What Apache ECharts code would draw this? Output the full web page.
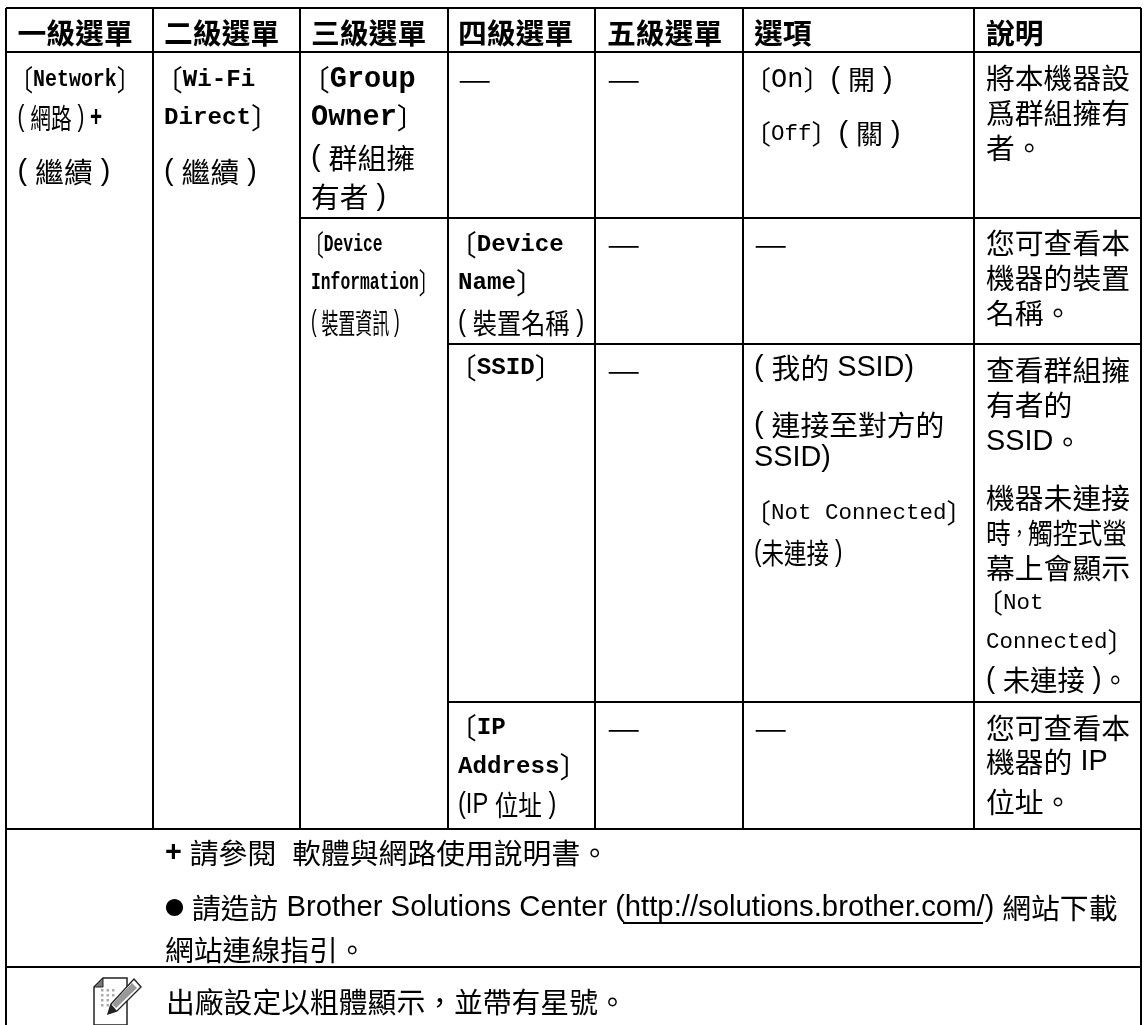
<!DOCTYPE html>
<html><head><meta charset="utf-8">
<style>html,body{margin:0;padding:0;background:#fff}#c{width:1144px;height:1025px}</style>
<script src="https://cdn.jsdelivr.net/npm/echarts@6/dist/echarts.min.js"></script>
</head><body><div id="c"></div>
<script>
// ---- table text ----
const headers = ['一級選單','二級選單','三級選單','四級選單','五級選單','選項','說明'];
const level1 = ['〔Network〕','( 網路 ) +','( 繼續 )'];
const level2 = ['〔Wi-Fi','Direct〕','( 繼續 )'];
const groupOwner = ['〔Group','Owner〕','( 群組擁','有者 )'];
const groupOwnerOptions = ['〔On〕( 開 )','〔Off〕( 關 )'];
const groupOwnerNote = ['將本機器設','爲群組擁有','者。'];
const deviceInfo = ['〔Device','Information〕','( 裝置資訊 )'];
const deviceName = ['〔Device','Name〕','( 裝置名稱 )'];
const deviceNameNote = ['您可查看本','機器的裝置','名稱。'];
const ssid = ['〔SSID〕'];
const ssidOptionsA = ['( 我的 SSID)','( 連接至對方的','SSID)'];
const ssidOptionsB = ['〔Not Connected〕','(未連接 )'];
const ssidNoteA = ['查看群組擁','有者的','SSID。','機器未連接'];
const ssidNoteT = ['時\uFF0C觸控式螢'];
const ssidNoteA2 = ['幕上會顯示'];
const ssidNoteB = ['〔Not','Connected〕'];
const ssidNoteC = ['( 未連接 )。'];
const ipAddress = ['〔IP','Address〕','(IP 位址 )'];
const ipNote = ['您可查看本','機器的 IP','位址。'];
const footnotes = ['+ 請參閱  軟體與網路使用說明書。','● 請造訪 Brother Solutions Center (http://solutions.brother.com/) 網站下載','網站連線指引。'];
const factoryNote = ['出廠設定以粗體顯示\uFF0C並帶有星號。'];
const dash = ['—'];

// ---- layout (kept apart from the text) ----
const colEdges = [153,300,448,595,743,974];
const tableLeft = 6, tableRight = 1141, tableTop = 8, tableBottom = 1025;
const headerBottom = 52, row2Top = 218, row3Top = 344, row4Top = 702, tableEnd = 829, noteTop = 967;
const textX = [17.5,164,311,458,607,754,986];
const sansF='"Liberation Sans","Noto Sans CJK TC"', monoF='"Liberation Mono"';
const S = {
  head:{f:sansF,size:28.8,w:700,cw:700},
  sans:{f:sansF,size:28.8,w:400},
  sansT:{f:sansF,size:28.8,w:400,tight:1,sx:.86},
  foot:{f:sansF,size:29.3,w:400},
  monoB29:{f:monoF,size:28.6,w:700},
  monoB24:{f:monoF,size:24.2,w:700},
  mono:{f:monoF,size:22.5,w:400,c:27},
  monoOn:{f:monoF,size:27,w:400,c:27},
  cond:{f:monoF,size:24,w:700,sx:.68},
  condN:{f:monoF,size:24,w:700,sx:.83},
  s59:{f:sansF,size:28.8,w:400,sx:.59},
  s72:{f:sansF,size:28.8,w:400,sx:.72},
  s78:{f:sansF,size:28.8,w:400,sx:.78},
  s82:{f:sansF,size:28.8,w:400,sx:.82},
  s84:{f:sansF,size:28.8,w:400,sx:.84},
  s95:{f:sansF,size:28.8,w:400,sx:.95},
  dash:{f:sansF,size:28.8,w:400,sx:1.3}
};
const placed = [
  [[headers[0]],textX[0],[33],'head'],[[headers[1]],textX[1],[33],'head'],[[headers[2]],textX[2],[33],'head'],
  [[headers[3]],textX[3],[33],'head'],[[headers[4]],textX[4],[33],'head'],[[headers[5]],textX[5],[33],'head'],[[headers[6]],textX[6],[33],'head'],
  [level1.slice(0,1),textX[0],[80],'condN'],[level1.slice(1,2),textX[0],[118],'s72'],[level1.slice(2),textX[0],[172],'sans'],
  [level2.slice(0,2),textX[1],[80,118],'monoB24'],[level2.slice(2),textX[1],[172],'sans'],
  [groupOwner.slice(0,2),textX[2],[80,118],'monoB29'],[groupOwner.slice(2),textX[2],[158,197],'sans'],
  [dash,textX[3],[79],'dash'],[dash,textX[4],[79],'dash'],
  [groupOwnerOptions.slice(0,1),textX[5],[80],'monoOn'],[groupOwnerOptions.slice(1),textX[5],[134],'mono'],
  [groupOwnerNote,textX[6],[78,113,148],'sans'],
  [deviceInfo.slice(0,2),textX[2],[245,283],'cond'],[deviceInfo.slice(2),textX[2],[323],'s59'],
  [deviceName.slice(0,2),textX[3],[245,283],'monoB24'],[deviceName.slice(2),textX[3],[323],'s84'],
  [dash,textX[4],[244],'dash'],[dash,textX[5],[244],'dash'],
  [deviceNameNote,textX[6],[243,278,313],'sans'],
  [ssid,textX[3],[368],'monoB24'],[dash,textX[4],[370],'dash'],
  [ssidOptionsA,textX[5],[368,425,458],'sans'],
  [ssidOptionsB.slice(0,1),textX[5],[513],'mono'],[ssidOptionsB.slice(1),textX[5],[553],'s78'],
  [ssidNoteA,textX[6],[370,405,442,498],'sans'],[ssidNoteT,textX[6],[533],'sansT'],[ssidNoteA2,textX[6],[568],'sans'],
  [ssidNoteB,textX[6],[603,642],'mono'],[ssidNoteC,textX[6],[680],'s95'],
  [ipAddress.slice(0,2),textX[3],[728,767],'monoB24'],[ipAddress.slice(2),textX[3],[805],'s82'],
  [dash,textX[4],[728],'dash'],[dash,textX[5],[728],'dash'],
  [ipNote,textX[6],[728,762,802],'sans'],
  [footnotes,165,[853,908,950],'foot'],
  [factoryNote,166,[1002],'sans']
];
const rules = [
  [tableLeft,tableTop,tableRight,tableTop],[tableLeft,tableTop,tableLeft,tableBottom],[tableRight,tableTop,tableRight,tableBottom],
  [tableLeft,headerBottom,tableRight,headerBottom],[tableLeft,tableEnd,tableRight,tableEnd],[tableLeft,noteTop,tableRight,noteTop],
  [colEdges[1],row2Top,tableRight,row2Top],[colEdges[2],row3Top,tableRight,row3Top],[colEdges[2],row4Top,tableRight,row4Top]
].concat(colEdges.map(x=>[x,tableTop,x,tableEnd]));
rules.push([623,923,983,923]);

// ---- build ----
const textData = [];
placed.forEach(p=>p[0].forEach((t,i)=>textData.push([p[1],p[2][i],t,p[3]])));

function richOf(line,key){
  const st=S[key];
  const rich={
    a:{fontFamily:st.f,fontSize:st.size,fontWeight:st.w,color:'#000'},
    s:{fontFamily:sansF,fontSize:28.8,fontWeight:400,color:'#000'},
    c:{fontFamily:'"Noto Sans CJK TC"',fontSize:st.c||28.8,fontWeight:st.cw||400,color:'#000'},
    b:{fontFamily:'"Noto Sans CJK TC"',fontSize:19,color:'#000'},
    p:{fontFamily:sansF,fontSize:28.8,fontWeight:700,color:'#000'},
    k:{fontFamily:'"Noto Sans CJK TC"',fontSize:st.tight?20:28.8,color:'#000'}
  };
  const toks=line.match(/●|\+|\uFF0C|[A-Za-z0-9\-:.\/]+(?: [A-Za-z0-9\-:.\/]+)*|[^\x00-\x7f●\uFF0C]+|[\x00-\x7f]/g)||[];
  const s=toks.map(t=>{
    let k='s';
    if(t==='●')k='b'; else if(t==='+')k='p'; else if(t==='\uFF0C')k='k';
    else if(/^[A-Za-z0-9\-]/.test(t))k='a'; else if(/^[^\x00-\x7f]/.test(t))k='c';
    return '{'+k+'|'+t+'}';
  }).join('');
  return {s,rich};
}
const chart=echarts.init(document.getElementById('c'),null,{renderer:'canvas'});
chart.setOption({
  animation:false,
  backgroundColor:'#fff',
  grid:{left:0,right:0,top:0,bottom:0},
  xAxis:{type:'value',min:0,max:1144,show:false},
  yAxis:{type:'value',min:0,max:1025,inverse:true,show:false},
  series:[
   {type:'custom',coordinateSystem:'cartesian2d',clip:false,silent:true,data:rules,
    renderItem(p,api){
      const a=api.coord([api.value(0),api.value(1)]),b=api.coord([api.value(2),api.value(3)]);
      return {type:'line',shape:{x1:a[0],y1:a[1],x2:b[0],y2:b[1]},style:{stroke:'#000',lineWidth:2}};
    }},
   {type:'custom',coordinateSystem:'cartesian2d',clip:false,silent:true,
    encode:{x:0,y:1},data:textData,
    renderItem(p,api){
      const d=textData[p.dataIndex], a=api.coord([d[0],d[1]]), r=richOf(d[2],d[3]), sx=S[d[3]].sx||1;
      const off=d[2][0]==='〔'?-10*sx:0;
      return {type:'text',x:a[0]+off,y:a[1],scaleX:sx,style:{text:r.s,rich:r.rich,align:'left',verticalAlign:'middle'}};
    }},
   {type:'custom',coordinateSystem:'cartesian2d',clip:false,silent:true,data:[[94,978]],
    renderItem(p,api){
      const a=api.coord([api.value(0),api.value(1)]), dots=[];
      for(let i=0;i<4;i++)for(let j=0;j<(i<2?3:2);j++)dots.push({type:'rect',shape:{x:a[0]+7+j*5.5,y:a[1]+11+i*5,width:2.5,height:2.5},style:{fill:'#aaa'}});
      return {type:'group',children:[
        {type:'polygon',shape:{points:[[a[0]+9,a[1]],[a[0]+33,a[1]],[a[0]+33,a[1]+47],[a[0],a[1]+47],[a[0],a[1]+9]]},style:{fill:'#fff',stroke:'#222',lineWidth:1.5}},
        {type:'polygon',shape:{points:[[a[0]+9,a[1]],[a[0]+9,a[1]+9],[a[0],a[1]+9]]},style:{fill:'#777',stroke:'#222',lineWidth:1}}
      ].concat(dots).concat([
        {type:'polygon',shape:{points:[[a[0]+40,a[1]+1],[a[0]+47,a[1]+9],[a[0]+23,a[1]+33],[a[0]+14,a[1]+36],[a[0]+17,a[1]+26]]},style:{fill:'#fff',stroke:'#222',lineWidth:1.4}},
        {type:'polygon',shape:{points:[[a[0]+38,a[1]+5],[a[0]+43,a[1]+10],[a[0]+22,a[1]+30],[a[0]+18,a[1]+26]]},style:{fill:'#999'}},
        {type:'polygon',shape:{points:[[a[0]+17,a[1]+26],[a[0]+23,a[1]+33],[a[0]+14,a[1]+36]]},style:{fill:'#222'}}
      ])};
    }}
  ]
});
</script></body></html>
